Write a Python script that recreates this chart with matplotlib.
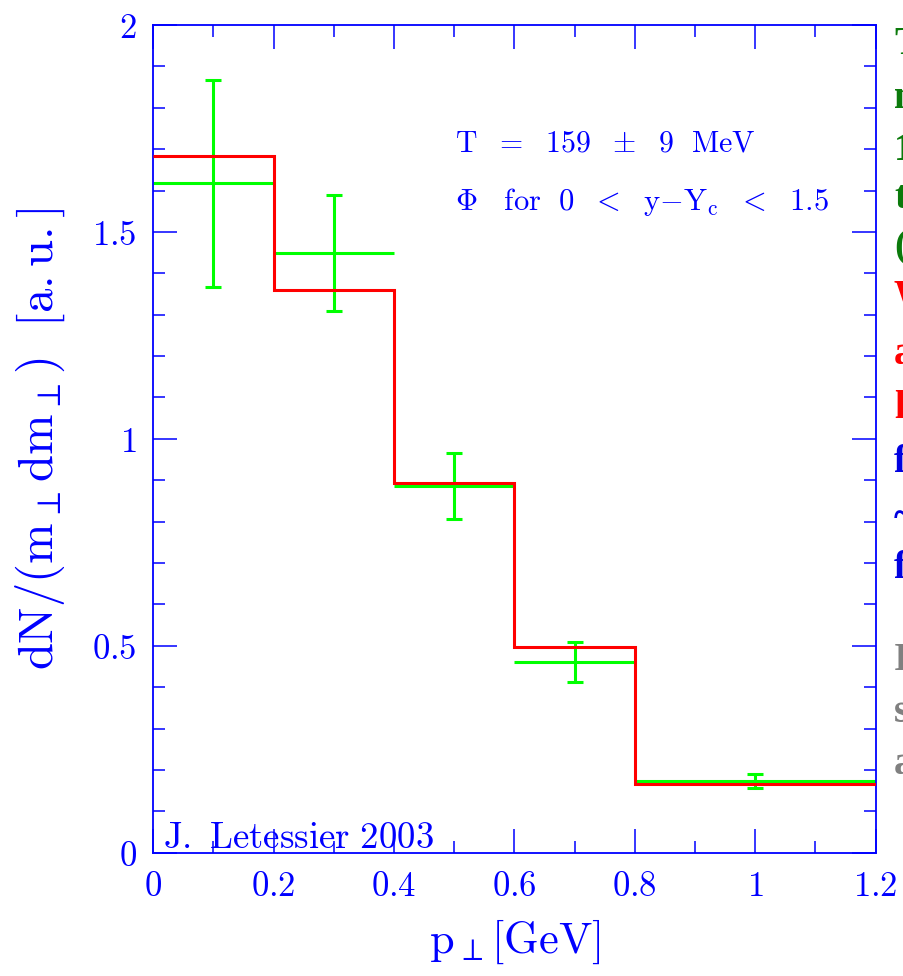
import numpy as np
import matplotlib
matplotlib.use("Agg")
import matplotlib.pyplot as plt

plt.rcParams['mathtext.fontset'] = 'cm'

# bins in p_T [GeV]
bin_edges = [0.0, 0.2, 0.4, 0.6, 0.8, 1.2]
# model (red histogram)
model_vals = [1.684, 1.359, 0.893, 0.496, 0.166]
# data points (green)
data_x = [0.1, 0.3, 0.5, 0.7, 1.0]
data_y = [1.618, 1.449, 0.887, 0.461, 0.173]
data_err = [0.250, 0.141, 0.080, 0.048, 0.017]

xtick_vals = [0, 0.2, 0.4, 0.6, 0.8, 1.0, 1.2]
xtick_labels = ['0', '0.2', '0.4', '0.6', '0.8', '1', '1.2']
ytick_vals = [0, 0.5, 1.0, 1.5, 2.0]
ytick_labels = ['0', '0.5', '1', '1.5', '2']

# slide text that is cut off at the right edge of the reference picture
side_text = ['The', 'mea', '1', 'the', '(', 'Wh', 'an', 'lo', 'fr', '~', 'fr', 'I', 'se', 'an']
side_color = ['#0b7a0b'] * 5 + ['#ff0000'] * 3 + ['#0000e0'] * 3 + ['#808080'] * 3
side_ypx = [45, 98, 150, 198, 248, 297, 355, 408, 463, 518, 568, 660, 713, 765]

blue = '#0000ff'

fig = plt.figure(figsize=(9.04, 9.76), dpi=100)
ax = fig.add_axes([153.3 / 904, 123.3 / 976, 722.4 / 904, 827.7 / 976])

# data: horizontal bin widths and vertical errors
xerr = [(bin_edges[i + 1] - bin_edges[i]) / 2 for i in range(len(data_x))]
xc = [(bin_edges[i + 1] + bin_edges[i]) / 2 for i in range(len(data_x))]
ax.errorbar(xc, data_y, xerr=xerr, fmt='none', ecolor='#00ff00', elinewidth=2.2, capsize=0, zorder=2)
ax.errorbar(data_x, data_y, yerr=data_err, fmt='none', ecolor='#00ff00', elinewidth=2.2,
            capsize=6, capthick=2.2, zorder=2)

ax.stairs(model_vals, bin_edges, baseline=None, color='#ff0000', linewidth=2.2, zorder=3)

ax.set_xlim(0, 1.2)
ax.set_ylim(0, 2)

ax.set_xticks(xtick_vals)
ax.set_xticklabels(['$' + s + '$' for s in xtick_labels])
ax.set_yticks(ytick_vals)
ax.set_yticklabels(['$' + s + '$' for s in ytick_labels])
ax.set_xticks(np.arange(0, 1.21, 0.1), minor=True)
ax.set_yticks(np.arange(0, 2.01, 0.1), minor=True)

ax.tick_params(which='both', direction='in', top=True, right=True, color=blue,
               labelcolor=blue, labelsize=25, width=1.1)
ax.tick_params(which='major', length=17, pad=12)
ax.tick_params(which='minor', length=8.5)
for sp in ax.spines.values():
    sp.set_color(blue)
    sp.set_linewidth(1.3)

ax.set_ylabel(r'$\mathrm{dN/(m_{\perp}dm_{\perp})\ \ [a.u.]}$', color=blue, fontsize=35, labelpad=18)
ax.set_xlabel(r'$\mathrm{p_{\perp}[GeV]}$', color=blue, fontsize=32, labelpad=10)

ax.text(0.501, 1.694, r'$\mathrm{T\ \ =\ \ 159\ \ \pm\ \ 9\ \ MeV}$', color=blue, fontsize=21.5,
        ha='left', va='baseline')
ax.text(0.501, 1.553, r'$\mathrm{\Phi\ \ \ for\ \ 0\ \ <\ \ y{-}Y_{c}\ \ <\ \ 1.5}$', color=blue,
        fontsize=22, ha='left', va='baseline')
ax.text(0.016, 0.011, r'$\mathrm{J.\ Letessier\ 2003}$', color=blue, fontsize=26.5,
        ha='left', va='baseline')

for s, c, yp in zip(side_text, side_color, side_ypx):
    fig.text(894 / 904, 1 - yp / 976, s, color=c, fontsize=28, fontweight='bold',
             family='Liberation Serif', ha='left', va='center')

fig.savefig('out.png', dpi=100)
